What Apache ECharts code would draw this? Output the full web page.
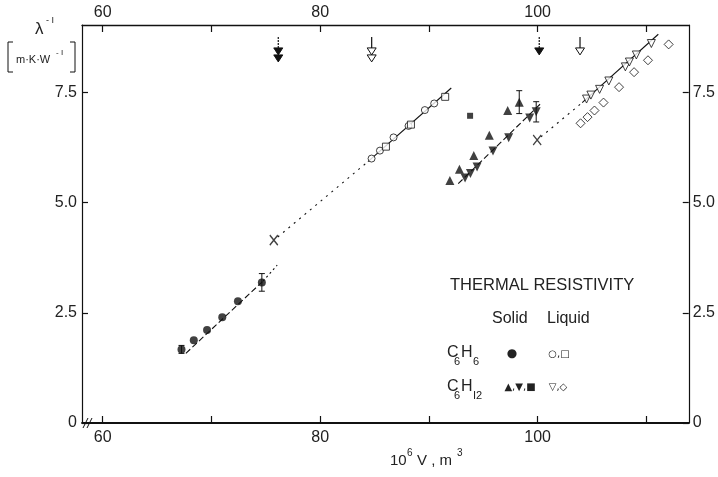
<!DOCTYPE html>
<html>
<head>
<meta charset="utf-8">
<script src="https://cdn.jsdelivr.net/npm/echarts@6/dist/echarts.min.js"></script>
<style>
  html, body { margin: 0; padding: 0; background: #fff; }
  #chart { width: 718px; height: 477px; }
</style>
</head>
<body>
<div id="chart"></div>
<script>
// thermal resistivity vs molar volume, benzene and cyclohexane
var xTicks = [60, 70, 80, 90, 100, 110];
var xLabels = [60, 80, 100];
var yTicks = [0, 2.5, 5.0, 7.5];

var benzeneSolid = [[67.25, 1.67], [68.38, 1.88], [69.6, 2.11], [71.0, 2.40], [72.44, 2.76], [74.64, 3.19]];
var benzeneLiqCircle = [[84.73, 6.00], [85.5, 6.18], [86.75, 6.48], [88.13, 6.74], [89.63, 7.10], [90.49, 7.25]];
var benzeneLiqSquare = [[86.05, 6.27], [88.35, 6.77], [91.5, 7.40]];
var hexSolidUp = [[91.93, 5.50], [92.81, 5.76], [94.13, 6.07], [95.56, 6.53], [97.25, 7.09], [98.31, 7.28]];
var hexSolidDown = [[93.33, 5.56], [93.82, 5.66], [94.43, 5.81], [95.9, 6.17], [97.34, 6.47], [99.27, 6.92], [99.87, 7.06]];
var hexSolidSquare = [[93.79, 6.97]];
var hexLiqDown = [[104.5, 7.35], [104.9, 7.44], [105.7, 7.57], [106.55, 7.76], [108.07, 8.08], [108.44, 8.19], [109.08, 8.35], [110.46, 8.61]];
var hexLiqDiamond = [[103.95, 6.80], [104.59, 6.94], [105.23, 7.09], [106.06, 7.27], [107.49, 7.62], [108.87, 7.96], [110.15, 8.23], [112.05, 8.59]];
var crossPoints = [[75.74, 4.15], [99.96, 6.42]];
// x, y, half error
var errorBars = [[67.25, 1.67, 0.09], [74.64, 3.19, 0.2], [98.31, 7.28, 0.26], [99.87, 7.06, 0.23]];

// fitted lines (end points)
var fitBenzeneSolid = [[67.65, 1.58], [74.75, 3.22]];
var extBenzeneSolid = [[74.75, 3.22], [76.05, 3.58]];
var extBenzeneLiq = [[76.1, 4.22], [84.4, 5.93]];
var fitBenzeneLiq = [[84.4, 5.93], [92.06, 7.6]];
var fitHexSolid = [[92.7, 5.43], [100.3, 7.25]];
var extHexLiq = [[100.3, 6.49], [104.1, 7.27]];
var fitHexLiq = [[104.1, 7.27], [111.1, 8.82]];

// melting volume arrows
var arrowX = [76.15, 84.74, 100.15, 103.9];
var arrowFilled = [1, 0, 1, 0];
var arrowHeads = [2, 2, 1, 1];
var arrowTop = 8.76;
var arrowTip = 8.51;

var INK = '#111';
var FONT = 'Liberation Sans';

var chart = echarts.init(document.getElementById('chart'));

function xAxisDef(pos, margin) {
    return {
        type: 'value',
        position: pos,
        min: 58.1,
        max: 113.9,
        axisLine: { show: true, onZero: false, lineStyle: { color: INK, width: pos === 'bottom' ? 1.8 : 1.3 } },
        axisTick: { show: true, inside: true, length: 7, customValues: xTicks, lineStyle: { color: INK, width: 1.2 } },
        axisLabel: { customValues: xLabels, fontSize: 16, fontFamily: FONT, color: '#222', margin: margin },
        splitLine: { show: false }
    }
}

function yAxisDef(pos, margin) {
    return {
        type: 'value',
        position: pos,
        min: 0,
        max: 9.03,
        axisLine: { show: true, onZero: false, lineStyle: { color: INK, width: 1.2 } },
        axisTick: { show: true, inside: true, length: 6, customValues: yTicks, lineStyle: { color: INK, width: 1.2 } },
        axisLabel: {
            customValues: yTicks, fontSize: 16, fontFamily: FONT, color: '#222', margin: margin,
            formatter: function (v) { return v === 0 ? '0' : v.toFixed(1) }
        },
        splitLine: { show: false }
    }
}

function fitLine(data, dash) {
    return {
        type: 'line',
        data: data,
        symbol: 'none',
        silent: true,
        z: 1,
        lineStyle: { color: INK, width: 1.1, type: dash }
    }
}

function scatter(data, symbol, size, filled, rotate) {
    return {
        type: 'scatter',
        data: data,
        symbol: symbol,
        symbolSize: size,
        symbolRotate: rotate || 0,
        z: 3,
        itemStyle: filled
            ? { color: INK, borderColor: INK, borderWidth: 0 }
            : { color: '#fff', borderColor: INK, borderWidth: 1 }
    }
}

function txt(x, y, s, size, align, family) {
    return {
        type: 'text', x: x, y: y,
        style: {
            text: s, fontSize: size, fontFamily: family || FONT, fill: '#222',
            textAlign: align || 'left', textVerticalAlign: 'middle'
        }
    }
}

var graphics = [
    // y axis title
    txt(35, 29, 'λ', 17),
    txt(46, 21, '- I', 9),
    { type: 'polyline', shape: { points: [[13, 42], [8, 42], [8, 72], [13, 72]] }, style: { stroke: INK, fill: null, lineWidth: 1 } },
    { type: 'polyline', shape: { points: [[70, 42], [75, 42], [75, 72], [70, 72]] }, style: { stroke: INK, fill: null, lineWidth: 1 } },
    txt(16, 60, 'm·K·W', 11),
    txt(56, 53, '- I', 8),
    // x axis title
    txt(390, 461, '10', 15),
    txt(407, 453, '6', 10),
    txt(417, 461, 'V , m', 15),
    txt(457, 453, '3', 10),
    // axis break
    { type: 'line', shape: { x1: 83, y1: 428, x2: 88, y2: 418 }, style: { stroke: INK, lineWidth: 1 } },
    { type: 'line', shape: { x1: 87, y1: 428, x2: 92, y2: 418 }, style: { stroke: INK, lineWidth: 1 } },
    // legend
    txt(450, 285, 'THERMAL RESISTIVITY', 16.5),
    txt(492, 319, 'Solid', 16),
    txt(547, 319, 'Liquid', 16),
    txt(447, 353, 'C', 16),
    txt(454, 362, '6', 11),
    txt(461, 353, 'H', 16),
    txt(473, 362, '6', 11),
    txt(512, 354, '●', 12, 'center', 'DejaVu Sans'),
    txt(559, 354, '○,□', 10, 'center', 'DejaVu Sans'),
    txt(447, 387, 'C', 16),
    txt(454, 396, '6', 11),
    txt(461, 387, 'H', 16),
    txt(473, 396, 'I2', 11),
    txt(520, 387, '▲,▼,■', 10, 'center', 'DejaVu Sans'),
    txt(558, 387, '▽,◇', 10, 'center', 'DejaVu Sans')
];

chart.setOption({
    animation: false,
    backgroundColor: '#fff',
    grid: { left: 82, right: 28, top: 25, bottom: 54 },
    xAxis: [xAxisDef('bottom', 7), xAxisDef('top', 4)],
    yAxis: [yAxisDef('left', 5), yAxisDef('right', 4)],
    graphic: graphics,
    series: [
        fitLine(fitBenzeneSolid, [6, 3]),
        fitLine(extBenzeneSolid, [2, 3]),
        fitLine(extBenzeneLiq, [2, 5]),
        fitLine(fitBenzeneLiq, 'solid'),
        fitLine(fitHexSolid, [6, 3]),
        fitLine(extHexLiq, [2, 5]),
        fitLine(fitHexLiq, 'solid'),
        scatter(benzeneSolid, 'circle', 8, true),
        scatter(benzeneLiqCircle, 'circle', 7, false),
        scatter(benzeneLiqSquare, 'rect', 7, false),
        scatter(hexSolidUp, 'triangle', 9, true),
        scatter(hexSolidDown, 'triangle', 9, true, 180),
        scatter(hexSolidSquare, 'rect', 6, true),
        scatter(hexLiqDown, 'triangle', 8, false, 180),
        scatter(hexLiqDiamond, 'diamond', 9, false),
        {
            type: 'scatter',
            data: crossPoints,
            symbol: 'path://M0,0L10,12M10,0L0,12',
            symbolSize: [8, 10],
            z: 3,
            itemStyle: { color: 'transparent', borderColor: INK, borderWidth: 1.4 }
        },
        {
            type: 'custom',
            data: errorBars,
            encode: { x: 0, y: 1 },
            z: 2,
            renderItem: function (params, api) {
                var x = api.value(0), y = api.value(1), e = api.value(2);
                var hi = api.coord([x, y + e]);
                var lo = api.coord([x, y - e]);
                var st = { stroke: INK, lineWidth: 1 };
                return {
                    type: 'group',
                    children: [
                        { type: 'line', shape: { x1: hi[0], y1: hi[1], x2: lo[0], y2: lo[1] }, style: st },
                        { type: 'line', shape: { x1: hi[0] - 3, y1: hi[1], x2: hi[0] + 3, y2: hi[1] }, style: st },
                        { type: 'line', shape: { x1: lo[0] - 3, y1: lo[1], x2: lo[0] + 3, y2: lo[1] }, style: st }
                    ]
                }
            }
        },
        {
            type: 'custom',
            data: arrowX.map(function (x, i) { return [x, arrowTop, arrowTip, arrowFilled[i], arrowHeads[i]] }),
            encode: { x: 0, y: 1 },
            z: 3,
            renderItem: function (params, api) {
                var x = api.value(0);
                var top = api.coord([x, api.value(1)]);
                var tip = api.coord([x, api.value(2)]);
                var filled = api.value(3) === 1;
                var n = api.value(4);
                var kids = [{
                    type: 'line',
                    shape: { x1: top[0], y1: top[1], x2: tip[0], y2: tip[1] },
                    style: { stroke: INK, lineWidth: 1.2, lineDash: filled ? [2, 1] : null }
                }];
                for (var k = 0; k < n; k++) {
                    var y0 = tip[1] + k * 7;
                    kids.push({
                        type: 'polygon',
                        shape: { points: [[tip[0] - 4.5, y0], [tip[0] + 4.5, y0], [tip[0], y0 + 7]] },
                        style: { fill: filled ? INK : '#fff', stroke: INK, lineWidth: 1 }
                    });
                }
                return { type: 'group', children: kids }
            }
        }
    ]
})
</script>
</body>
</html>
